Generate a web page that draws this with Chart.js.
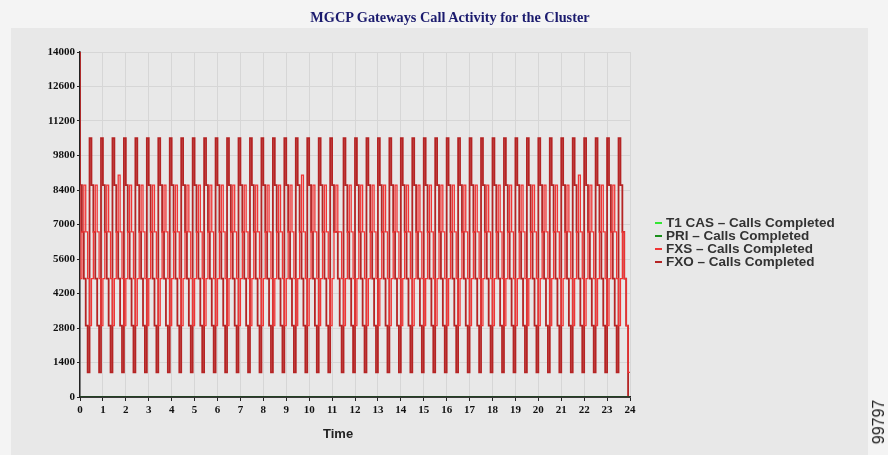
<!DOCTYPE html>
<html>
<head>
<meta charset="utf-8">
<script src="https://cdn.jsdelivr.net/npm/chart.js@4"></script>
<style>
  body { margin: 0; }
  #wrap { position: relative; width: 888px; height: 455px; background: #f4f4f4; overflow: hidden; }
  #panel { position: absolute; left: 11px; top: 28px; width: 857px; height: 427px; background: #e8e8e8; }
  #chart { position: absolute; left: 0; top: 0; }
  #title { position: absolute; left: 0; top: 9px; width: 900px; text-align: center; font: bold 14.3px "Liberation Serif", serif; color: #1b1b6e; }
  #legend { position: absolute; left: 655px; top: 216px; font: bold 13.5px "Liberation Sans", Arial, sans-serif; color: #333; line-height: 13px; }
  #legend .sw { display: inline-block; width: 7px; height: 2px; margin-right: 4px; vertical-align: middle; }
  #xtitle { position: absolute; left: 323px; top: 426px; font: bold 13px "Liberation Sans", Arial, sans-serif; color: #222; }
  #fig { position: absolute; left: 879px; top: 422px; transform: translate(-50%, -50%) rotate(-90deg); font: 16px "Liberation Sans", Arial, sans-serif; color: #222; }
</style>
</head>
<body>
<div id="wrap">
  <div id="panel"></div>
  <canvas id="chart" width="888" height="455"></canvas>
  <div id="title">MGCP Gateways Call Activity for the Cluster</div>
  <div id="legend"></div>
  <div id="xtitle">Time</div>
  <div id="fig">99797</div>
</div>
<script>
const seriesNames = [
    'T1 CAS \u2013 Calls Completed',
    'PRI \u2013 Calls Completed',
    'FXS \u2013 Calls Completed',
    'FXO \u2013 Calls Completed'
];
const seriesColors = ['#33e633', '#1a8f1a', '#f03535', '#b52424'];

// T1 CAS and PRI stay at zero all day
const flatTimes = [0, 1440];
const t1casCalls = [0, 0];
const priCalls = [0, 0];

// FXO / FXS sampled every 5 minutes (0:00 .. 24:00)
const fxoCalls = [
    14000,
    8600, 6700, 4800, 2900, 1000, 10500,
    8600, 6700, 4800, 2900, 1000, 10500,
    8600, 6700, 4800, 2900, 1000, 10500,
    8600, 6700, 4800, 2900, 1000, 10500,
    8600, 6700, 4800, 2900, 1000, 10500,
    8600, 6700, 4800, 2900, 1000, 10500,
    8600, 6700, 4800, 2900, 1000, 10500,
    8600, 6700, 4800, 2900, 1000, 10500,
    8600, 6700, 4800, 2900, 1000, 10500,
    8600, 6700, 4800, 2900, 1000, 10500,
    8600, 6700, 4800, 2900, 1000, 10500,
    8600, 6700, 4800, 2900, 1000, 10500,
    8600, 6700, 4800, 2900, 1000, 10500,
    8600, 6700, 4800, 2900, 1000, 10500,
    8600, 6700, 4800, 2900, 1000, 10500,
    8600, 6700, 4800, 2900, 1000, 10500,
    8600, 6700, 4800, 2900, 1000, 10500,
    8600, 6700, 4800, 2900, 1000, 10500,
    8600, 6700, 4800, 2900, 1000, 10500,
    8600, 6700, 4800, 2900, 1000, 10500,
    8600, 6700, 4800, 2900, 1000, 10500,
    8600, 6700, 4800, 2900, 1000, 10500,
    8600, 6700, 6700, 4800, 2900, 1000, 10500,
    8600, 6700, 4800, 2900, 1000, 10500,
    8600, 6700, 4800, 2900, 1000, 10500,
    8600, 6700, 4800, 2900, 1000, 10500,
    8600, 6700, 4800, 2900, 1000, 10500,
    8600, 6700, 4800, 2900, 1000, 10500,
    8600, 6700, 4800, 2900, 1000, 10500,
    8600, 6700, 4800, 2900, 1000, 10500,
    8600, 6700, 4800, 2900, 1000, 10500,
    8600, 6700, 4800, 2900, 1000, 10500,
    8600, 6700, 4800, 2900, 1000, 10500,
    8600, 6700, 4800, 2900, 1000, 10500,
    8600, 6700, 4800, 2900, 1000, 10500,
    8600, 6700, 4800, 2900, 1000, 10500,
    8600, 6700, 4800, 2900, 1000, 10500,
    8600, 6700, 4800, 2900, 1000, 10500,
    8600, 6700, 4800, 2900, 1000, 10500,
    8600, 6700, 4800, 2900, 1000, 10500,
    8600, 6700, 4800, 2900, 1000, 10500,
    8600, 6700, 4800, 2900, 1000, 10500,
    8600, 6700, 4800, 2900, 1000, 10500,
    8600, 6700, 4800, 2900, 1000, 10500,
    8600, 6700, 4800, 2900, 1000, 10500,
    8600, 6700, 4800, 2900, 1000, 10500,
    8600, 6700, 4800, 2900, 1000, 10500,
    8600, 6700, 4800, 2900, 0
];

const fxsCalls = [
    8600,
    4800, 6700, 8600, 6700, 4800, 2900,
    4800, 6700, 8600, 6700, 4800, 2900,
    4800, 6700, 8600, 6700, 4800, 2900,
    4800, 6700, 9000, 6700, 4800, 2900,
    4800, 6700, 8600, 6700, 4800, 2900,
    4800, 6700, 8600, 6700, 4800, 2900,
    4800, 6700, 8600, 6700, 4800, 2900,
    4800, 6700, 8600, 6700, 4800, 2900,
    4800, 6700, 8600, 6700, 4800, 2900,
    4800, 6700, 8600, 6700, 4800, 2900,
    4800, 6700, 8600, 6700, 4800, 2900,
    4800, 6700, 8600, 6700, 4800, 2900,
    4800, 6700, 8600, 6700, 4800, 2900,
    4800, 6700, 8600, 6700, 4800, 2900,
    4800, 6700, 8600, 6700, 4800, 2900,
    4800, 6700, 8600, 6700, 4800, 2900,
    4800, 6700, 8600, 6700, 4800, 2900,
    4800, 6700, 8600, 6700, 4800, 2900,
    4800, 6700, 8600, 6700, 4800, 2900,
    4800, 6700, 9000, 6700, 4800, 2900,
    4800, 6700, 8600, 6700, 4800, 2900,
    4800, 6700, 8600, 6700, 4800, 2900,
    4800, 6700, 8600, 6700, 6700, 4800, 2900,
    4800, 6700, 8600, 6700, 4800, 2900,
    4800, 6700, 8600, 6700, 4800, 2900,
    4800, 6700, 8600, 6700, 4800, 2900,
    4800, 6700, 8600, 6700, 4800, 2900,
    4800, 6700, 8600, 6700, 4800, 2900,
    4800, 6700, 8600, 6700, 4800, 2900,
    4800, 6700, 8600, 6700, 4800, 2900,
    4800, 6700, 8600, 6700, 4800, 2900,
    4800, 6700, 8600, 6700, 4800, 2900,
    4800, 6700, 8600, 6700, 4800, 2900,
    4800, 6700, 8600, 6700, 4800, 2900,
    4800, 6700, 8600, 6700, 4800, 2900,
    4800, 6700, 8600, 6700, 4800, 2900,
    4800, 6700, 8600, 6700, 4800, 2900,
    4800, 6700, 8600, 6700, 4800, 2900,
    4800, 6700, 8600, 6700, 4800, 2900,
    4800, 6700, 8600, 6700, 4800, 2900,
    4800, 6700, 8600, 6700, 4800, 2900,
    4800, 6700, 8600, 6700, 4800, 2900,
    4800, 6700, 8600, 6700, 4800, 2900,
    4800, 6700, 9000, 6700, 4800, 2900,
    4800, 6700, 8600, 6700, 4800, 2900,
    4800, 6700, 8600, 6700, 4800, 2900,
    4800, 6700, 8600, 6700, 4800, 2900,
    4800, 6700, 4800, 2900, 1000
];

// sample grid: one reading every 5 minutes
const minutes = Array.from({ length: fxoCalls.length }, (_, i) => i * 5);

const tickFont = { family: 'Liberation Serif', size: 11, weight: 'bold' };

// legend
const legendBox = document.getElementById('legend');
seriesNames.forEach((name, i) => {
    const row = document.createElement('div');
    row.innerHTML = '<span class="sw" style="background:' + seriesColors[i] + '"></span>' + name;
    legendBox.appendChild(row);
});

function flatLine(vals) {
    return flatTimes.map((t, i) => ({ x: t, y: vals[i] }));
}

// redraw the x axis over the zero lines
const axisLine = {
    id: 'axisLine',
    afterDatasetsDraw(chart) {
        const { ctx, chartArea } = chart;
        ctx.save();
        ctx.strokeStyle = '#222';
        ctx.lineWidth = 1.5;
        ctx.beginPath();
        ctx.moveTo(chartArea.left, chartArea.bottom);
        ctx.lineTo(chartArea.right, chartArea.bottom);
        ctx.stroke();
        ctx.restore();
    }
};

const ctx = document.getElementById('chart');
const chart = new Chart(ctx, {
    type: 'line',
    data: {
        labels: minutes,
        datasets: [
            { label: seriesNames[0], data: flatLine(t1casCalls), borderColor: seriesColors[0], borderWidth: 1 },
            { label: seriesNames[1], data: flatLine(priCalls), borderColor: seriesColors[1], borderWidth: 1 },
            { label: seriesNames[2], data: fxsCalls, borderColor: seriesColors[2], borderWidth: 1.3, stepped: 'after' },
            { label: seriesNames[3], data: fxoCalls, borderColor: seriesColors[3], borderWidth: 1.8, stepped: 'after' }
        ]
    },
    options: {
        responsive: false,
        animation: false,
        layout: { padding: { left: 0, right: 258, top: 52, bottom: 0 } },
        elements: { point: { radius: 0 }, line: { tension: 0 } },
        plugins: {
            legend: { display: false },
            title: { display: false },
            tooltip: { enabled: false }
        },
        scales: {
            x: {
                type: 'linear',
                min: 0,
                max: 1440,
                afterFit: (scale) => { scale.height = 58; },
                ticks: {
                    stepSize: 60,
                    autoSkip: false,
                    maxRotation: 0,
                    padding: 3,
                    color: '#111',
                    font: tickFont,
                    callback: (v) => String(v / 60)
                },
                grid: { color: '#d6d6d6', tickLength: 4, tickColor: '#222' },
                border: { color: '#222', width: 1.5 }
            },
            y: {
                min: 0,
                max: 14000,
                afterFit: (scale) => { scale.width = 80; },
                ticks: {
                    stepSize: 1400,
                    padding: 2,
                    color: '#111',
                    font: tickFont,
                    callback: (v) => String(v)
                },
                grid: { color: '#d6d6d6', tickLength: 3, tickColor: '#222' },
                border: { color: '#222', width: 1.5 }
            }
        }
    },
    plugins: [axisLine]
});
</script>
</body>
</html>
